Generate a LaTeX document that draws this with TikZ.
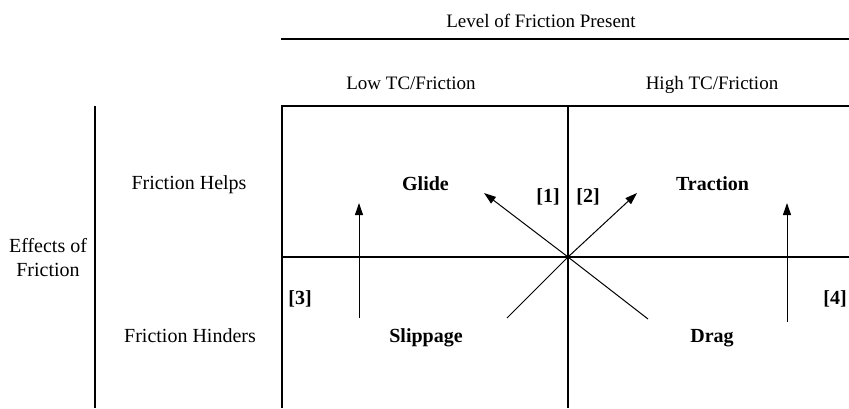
\documentclass[tikz,border=0pt]{standalone}
\usepackage{fontspec}
\setmainfont{Liberation Serif}
\usetikzlibrary{arrows.meta}
\begin{document}
\begin{tikzpicture}[x=1pt,y=-1pt,
  frame/.style={line width=2pt},
  flow/.style={line width=1pt,-{Triangle[length=12pt,width=8pt]}},
  plain/.style={font=\fontsize{19}{23}\selectfont,inner sep=0pt,anchor=base},
  side/.style={font=\fontsize{20}{24}\selectfont,inner sep=0pt,anchor=base},
  zone/.style={font=\fontsize{20}{24}\selectfont\bfseries,inner sep=0pt,anchor=base},
  ]
\useasboundingbox (0,0) rectangle (849,408);
% frame lines
\draw[frame] (281,39) -- (849,39);
\draw[frame] (95,106) -- (95,408);
\draw[frame] (282,408) -- (282,106) -- (849,106);
\draw[frame] (568,106) -- (568,408);
\draw[frame] (282,257) -- (849,257);
% headings
\node[plain] (level) at (541,27) {Level of Friction Present};
\node[plain] (low) at (411,89.5) {Low TC/Friction};
\node[plain] (high) at (712,89.5) {High TC/Friction};
\node[side] (helps) at (189,189) {Friction Helps};
\node[side] (hinders) at (190,342) {Friction Hinders};
\node[side,align=center,anchor=center] (effects) at (48,258) {Effects of\\Friction};
% quadrant names
\node[zone] (glide) at (425.5,190) {Glide};
\node[zone] (traction) at (712.5,190) {Traction};
\node[zone] (slippage) at (426,342) {Slippage};
\node[zone] (drag) at (712,342) {Drag};
% numbers
\node[zone] (n1) at (548,202) {[1]};
\node[zone] (n2) at (588,202) {[2]};
\node[zone] (n3) at (300,304) {[3]};
\node[zone] (n4) at (835,304) {[4]};
% arrows
\coordinate (c) at (568,257);
\coordinate (s1) at (648,319);
\coordinate (t1) at (484,193);
\coordinate (s2) at (507,318);
\coordinate (t2) at (637,193);
\coordinate (s3) at (359,318);
\coordinate (t3) at (359,203);
\coordinate (s4) at (787,322);
\coordinate (t4) at (787,203);
\draw[flow] (s1) -- (c) -- (t1);
\draw[flow] (s2) -- (c) -- (t2);
\draw[flow] (s3) -- (t3);
\draw[flow] (s4) -- (t4);
\end{tikzpicture}
\end{document}
